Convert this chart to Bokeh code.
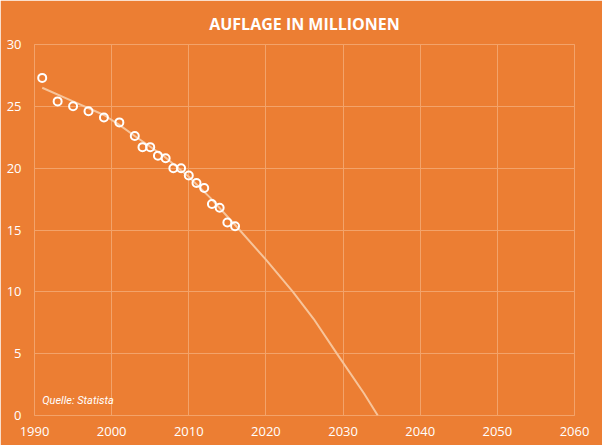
from bokeh.plotting import figure
from bokeh.models import Range1d, FixedTicker, Label
from bokeh.embed import file_html
from bokeh.resources import INLINE

# observed circulation (millions)
years = [1991, 1993, 1995, 1997, 1999, 2001, 2003, 2004, 2005, 2006,
         2007, 2008, 2009, 2010, 2011, 2012, 2013, 2014, 2015, 2016]
auflage = [27.3, 25.4, 25.0, 24.6, 24.1, 23.7, 22.6, 21.7, 21.7, 21.0,
           20.8, 20.0, 20.0, 19.4, 18.8, 18.4, 17.1, 16.8, 15.6, 15.3]

# trend line
trend_years = [1991, 1995, 1999, 2001, 2003, 2006.7, 2010, 2012.8, 2016.3,
               2020, 2023.5, 2026.2, 2029.2, 2032.7, 2034.5]
trend_vals = [26.5, 25.4, 24.3, 23.5, 22.6, 21.0, 19.3, 17.6, 15.2,
              12.6, 10.0, 7.8, 5.0, 1.8, 0.0]

x_ticks = [1990, 2000, 2010, 2020, 2030, 2040, 2050, 2060]
y_ticks = [0, 5, 10, 15, 20, 25, 30]

bg = "#EC7E33"
grid = "#F3A36A"

p = figure(width=602, height=445, output_backend="svg", toolbar_location=None,
           x_range=Range1d(1990, 2060), y_range=Range1d(0, 30),
           min_border_left=34, min_border_right=28, min_border_top=43, min_border_bottom=30)
p.background_fill_color = bg
p.border_fill_color = bg
p.outline_line_color = grid
p.outline_line_width = 1

p.title.text = "AUFLAGE IN MILLIONEN"
p.title.align = "center"
p.title.text_color = "white"
p.title.text_font = "Open Sans"
p.title.text_font_style = "bold"
p.title.text_font_size = "16px"
p.title.text_line_height = 0.8
p.title.offset = 0
p.title.standoff = 20

for ax in [p.xaxis[0], p.yaxis[0]]:
    ax.axis_line_color = None
    ax.major_tick_line_color = None
    ax.minor_tick_line_color = None
    ax.major_label_text_color = "white"
    ax.major_label_text_font = "Open Sans"
    ax.major_label_text_font_size = "13px"
p.xaxis.ticker = FixedTicker(ticks=x_ticks)
p.yaxis.ticker = FixedTicker(ticks=y_ticks)
p.xaxis.major_label_standoff = 5
p.yaxis.major_label_standoff = 7

p.xgrid.ticker = FixedTicker(ticks=x_ticks)
p.ygrid.ticker = FixedTicker(ticks=y_ticks)
p.grid.grid_line_color = grid
p.grid.grid_line_width = 1

p.line(trend_years, trend_vals, line_color="#F7C49A", line_width=2)
p.scatter(years, auflage, size=8, fill_color=None, line_color="white", line_width=2)

p.add_layout(Label(x=1991, y=1.2, text="Quelle: Statista", text_color="white",
                   text_font="Roboto", text_font_style="italic", text_font_size="11px",
                   text_baseline="alphabetic"))

html = file_html(p, INLINE)
html = html.replace("<body>", '<body style="margin:0;background:%s">' % bg, 1)
open("out.html", "w").write(html)
